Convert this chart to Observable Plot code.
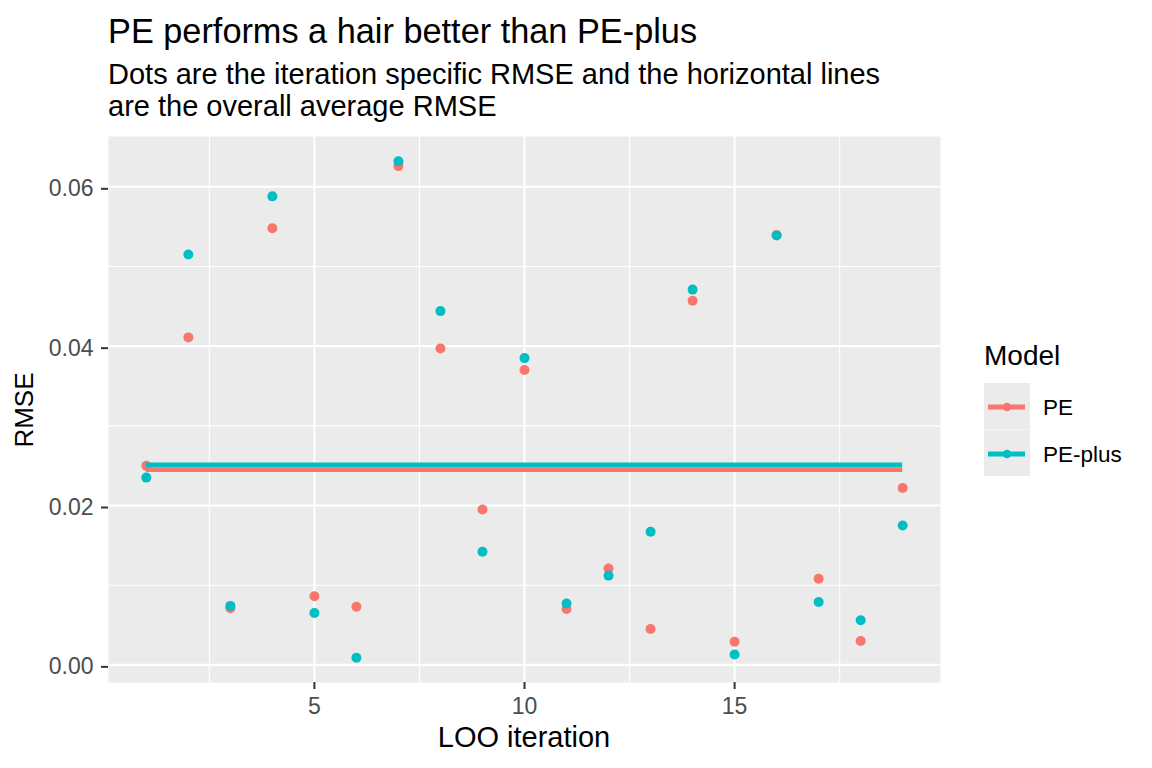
<!DOCTYPE html>
<html>
<head>
<meta charset="utf-8">
<script src="https://cdn.jsdelivr.net/npm/d3@7"></script>
<script src="https://cdn.jsdelivr.net/npm/@observablehq/plot@0.6"></script>
<style>
  html, body { margin: 0; padding: 0; background: #fff; }
  body { width: 1152px; height: 768px; position: relative; overflow: hidden;
         font-family: "Liberation Sans", Arial, sans-serif; color: #000; }
  .abs { position: absolute; white-space: nowrap; }
</style>
</head>
<body>
<div id="chart" class="abs" style="left:0;top:0;"></div>
<div class="abs" style="left:108px;top:13.5px;font-size:34.3px;line-height:1;">PE performs a hair better than PE-plus</div>
<div class="abs" style="left:108px;top:58px;font-size:29px;line-height:32px;">Dots are the iteration specific RMSE and the horizontal lines<br>are the overall average RMSE</div>
<div class="abs" style="left:108px;width:832px;text-align:center;top:723px;font-size:29px;line-height:1;">LOO iteration</div>
<div class="abs" style="left:24.3px;top:410px;font-size:26px;line-height:1;transform:translate(-50%,-50%) rotate(-90deg);">RMSE</div>
<div id="legend" class="abs" style="left:984px;top:342px;"></div>
<script>
// ---- data ----
const models = ["PE", "PE-plus"];
const modelColors = ["#F8766D", "#00BFC4"];
const iteration = [1, 2, 3, 4, 5, 6, 7, 8, 9, 10, 11, 12, 13, 14, 15, 16, 17, 18, 19];
const rmsePE = [0.0250, 0.0411, 0.0071, 0.0548, 0.0086, 0.0073, 0.0626, 0.0397, 0.0195, 0.0370,
                0.0070, 0.0121, 0.0045, 0.0457, 0.0029, 0.05395, 0.0108, 0.0030, 0.0222];
const rmsePEplus = [0.0235, 0.0515, 0.0074, 0.0588, 0.0065, 0.0009, 0.0632, 0.0444, 0.0142, 0.0385,
                    0.0077, 0.0112, 0.0167, 0.0471, 0.0013, 0.0539, 0.0079, 0.0056, 0.0175];
const averageRMSE = [0.0245, 0.0251];
const xMajorTicks = [5, 10, 15];
const xMinorTicks = [2.5, 7.5, 12.5, 17.5];
const yMajorTicks = [0, 0.02, 0.04, 0.06];
const yMinorTicks = [0.01, 0.03, 0.05];

// ---- tables ----
const points = [
  ...iteration.map((it, i) => ({iteration: it, rmse: rmsePE[i], model: models[0]})),
  ...iteration.map((it, i) => ({iteration: it, rmse: rmsePEplus[i], model: models[1]}))
];
const averages = models.map((m, i) => ({model: m, rmse: averageRMSE[i]}));
const averagesDrawOrder = [averages[1], averages[0]];

// ggplot-like 5% expansion
const xMin = d3.min(iteration), xMax = d3.max(iteration);
const xPad = 0.05 * (xMax - xMin);
const allY = points.map(d => d.rmse).concat(averageRMSE);
const yMin = d3.min(allY), yMax = d3.max(allY);
const yPad = 0.05 * (yMax - yMin);

const chart = Plot.plot({
  width: 1152,
  height: 768,
  marginLeft: 108,
  marginRight: 212,
  marginTop: 136,
  marginBottom: 86,
  style: {fontFamily: '"Liberation Sans", Arial, sans-serif', background: "transparent"},
  x: {domain: [xMin - xPad, xMax + xPad]},
  y: {domain: [yMin - yPad, yMax + yPad]},
  color: {domain: models, range: modelColors},
  marks: [
    Plot.frame({fill: "#EBEBEB", stroke: "none"}),
    Plot.gridY(yMinorTicks, {stroke: "#FFFFFF", strokeOpacity: 1, strokeWidth: 1.1}),
    Plot.gridX(xMinorTicks, {stroke: "#FFFFFF", strokeOpacity: 1, strokeWidth: 1.1}),
    Plot.gridY(yMajorTicks, {stroke: "#FFFFFF", strokeOpacity: 1, strokeWidth: 2.1}),
    Plot.gridX(xMajorTicks, {stroke: "#FFFFFF", strokeOpacity: 1, strokeWidth: 2.1}),
    Plot.axisY(yMajorTicks, {
      tickSize: 7, tickPadding: 8, stroke: "#333333", strokeWidth: 2,
      fill: "#4D4D4D", fontSize: 23, tickFormat: d3.format(".2f"), label: null, dy: 2
    }),
    Plot.axisX(xMajorTicks, {
      tickSize: 7, tickPadding: 8.5, stroke: "#333333", strokeWidth: 2,
      fill: "#4D4D4D", fontSize: 23, label: null
    }),
    Plot.dot(points, {x: "iteration", y: "rmse", fill: "model", r: 5, stroke: "none"}),
    Plot.ruleY(averagesDrawOrder, {
      y: "rmse", x1: xMin, x2: xMax, stroke: "model", strokeWidth: 4.7, strokeLinecap: "butt"
    })
  ]
});
document.getElementById("chart").appendChild(chart);

// ---- legend (ggplot-style keys) ----
const colorScale = chart.scale("color");
const legend = document.getElementById("legend");
const title = document.createElement("div");
title.textContent = "Model";
title.style.cssText = "position:absolute;left:0;top:0;font-size:28px;line-height:1;white-space:nowrap;";
legend.appendChild(title);
models.forEach((m, i) => {
  const c = colorScale.apply(m);
  const keyTop = 41 + i * 46.5;
  const key = document.createElementNS("http://www.w3.org/2000/svg", "svg");
  key.setAttribute("width", 46);
  key.setAttribute("height", 46.5);
  key.style.cssText = `position:absolute;left:0;top:${keyTop}px;`;
  key.innerHTML = `<rect x="0" y="0" width="46" height="46.5" fill="#EBEBEB"/>
    <line x1="4" x2="41" y1="24" y2="24" stroke="${c}" stroke-width="5"/>
    <circle cx="23" cy="24" r="4.3" fill="${c}"/>`;
  legend.appendChild(key);
  const lab = document.createElement("div");
  lab.textContent = m;
  lab.style.cssText = `position:absolute;left:59px;top:${keyTop + 14}px;font-size:22.5px;line-height:1;white-space:nowrap;`;
  legend.appendChild(lab);
});
</script>
</body>
</html>
